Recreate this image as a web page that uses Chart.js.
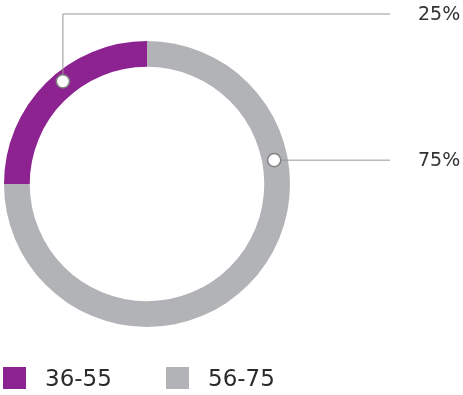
<!DOCTYPE html>
<html>
<head>
<meta charset="utf-8">
<script src="https://cdn.jsdelivr.net/npm/chart.js@4/dist/chart.umd.min.js"></script>
<style>
  html, body { margin: 0; padding: 0; background: #fff; }
  #wrap { width: 463px; height: 395px; }
</style>
</head>
<body>
<div id="wrap"><canvas id="ageChart" width="463" height="395"></canvas></div>
<script>
const categories = ["36-55", "56-75"];
const shares = [25, 75];
const sliceColors = ["#8c2390", "#b2b3b6"];

const FONT = "'DejaVu Sans', Verdana, sans-serif";

// where the callout dot sits along each slice (0..1), across the ring (0 inner..1 outer)
const calloutAt = [0.563, 0.294];
const calloutDepth = [0.6, 0.47];
const calloutRowY = [14, null]; // null -> same height as the dot
const calloutLineEnd = 390;
const calloutTextX = 418;

const calloutPlugin = {
  id: "callouts",
  afterDraw(chart) {
    const ctx = chart.ctx;
    const arcs = chart.getDatasetMeta(0).data;
    ctx.save();
    arcs.forEach((arc, i) => {
      const p = arc.getProps(["x", "y", "startAngle", "endAngle", "innerRadius", "outerRadius"], true);
      const a = p.startAngle + (p.endAngle - p.startAngle) * calloutAt[i];
      const r = p.innerRadius + (p.outerRadius - p.innerRadius) * calloutDepth[i];
      const dx = p.x + Math.cos(a) * r;
      const dy = p.y + Math.sin(a) * r;
      const rowY = calloutRowY[i] === null ? dy : calloutRowY[i];

      ctx.strokeStyle = "#969696";
      ctx.lineWidth = 1;
      ctx.beginPath();
      if (calloutRowY[i] === null) {
        ctx.moveTo(dx, rowY);
      } else {
        ctx.moveTo(dx, dy);
        ctx.lineTo(dx, rowY);
      }
      ctx.lineTo(calloutLineEnd, rowY);
      ctx.stroke();

      ctx.beginPath();
      ctx.arc(dx, dy, 6.6, 0, Math.PI * 2);
      ctx.fillStyle = "#fff";
      ctx.fill();
      ctx.lineWidth = 1.5;
      ctx.strokeStyle = "#808080";
      ctx.stroke();

      ctx.fillStyle = "#333";
      ctx.font = "19px " + FONT;
      ctx.textBaseline = "middle";
      ctx.textAlign = "left";
      ctx.fillText(shares[i] + "%", calloutTextX, rowY + 1);
    });
    ctx.restore();
  }
};

// legend row at the bottom
const legendPlugin = {
  id: "bottomLegend",
  afterDraw(chart) {
    const ctx = chart.ctx;
    const xs = [3, 166];
    ctx.save();
    categories.forEach((name, i) => {
      ctx.fillStyle = sliceColors[i];
      ctx.fillRect(xs[i], 367, 23, 22);
      ctx.fillStyle = "#2b2b2b";
      ctx.font = "23px " + FONT;
      ctx.textBaseline = "alphabetic";
      ctx.fillText(name, xs[i] + 42, 386);
    });
    ctx.restore();
  }
};

new Chart(document.getElementById("ageChart").getContext("2d"), {
  type: "doughnut",
  data: {
    labels: categories,
    datasets: [
      {
        data: shares,
        backgroundColor: sliceColors,
        borderWidth: 0,
      },
    ],
  },
  options: {
    responsive: false,
    animation: false,
    rotation: -90,
    cutout: "82%",
    layout: {
      padding: { left: 4, top: 41, right: 173, bottom: 68 },
    },
    plugins: {
      legend: { display: false },
      tooltip: { enabled: false },
    },
  },
  plugins: [calloutPlugin, legendPlugin],
});
</script>
</body>
</html>
